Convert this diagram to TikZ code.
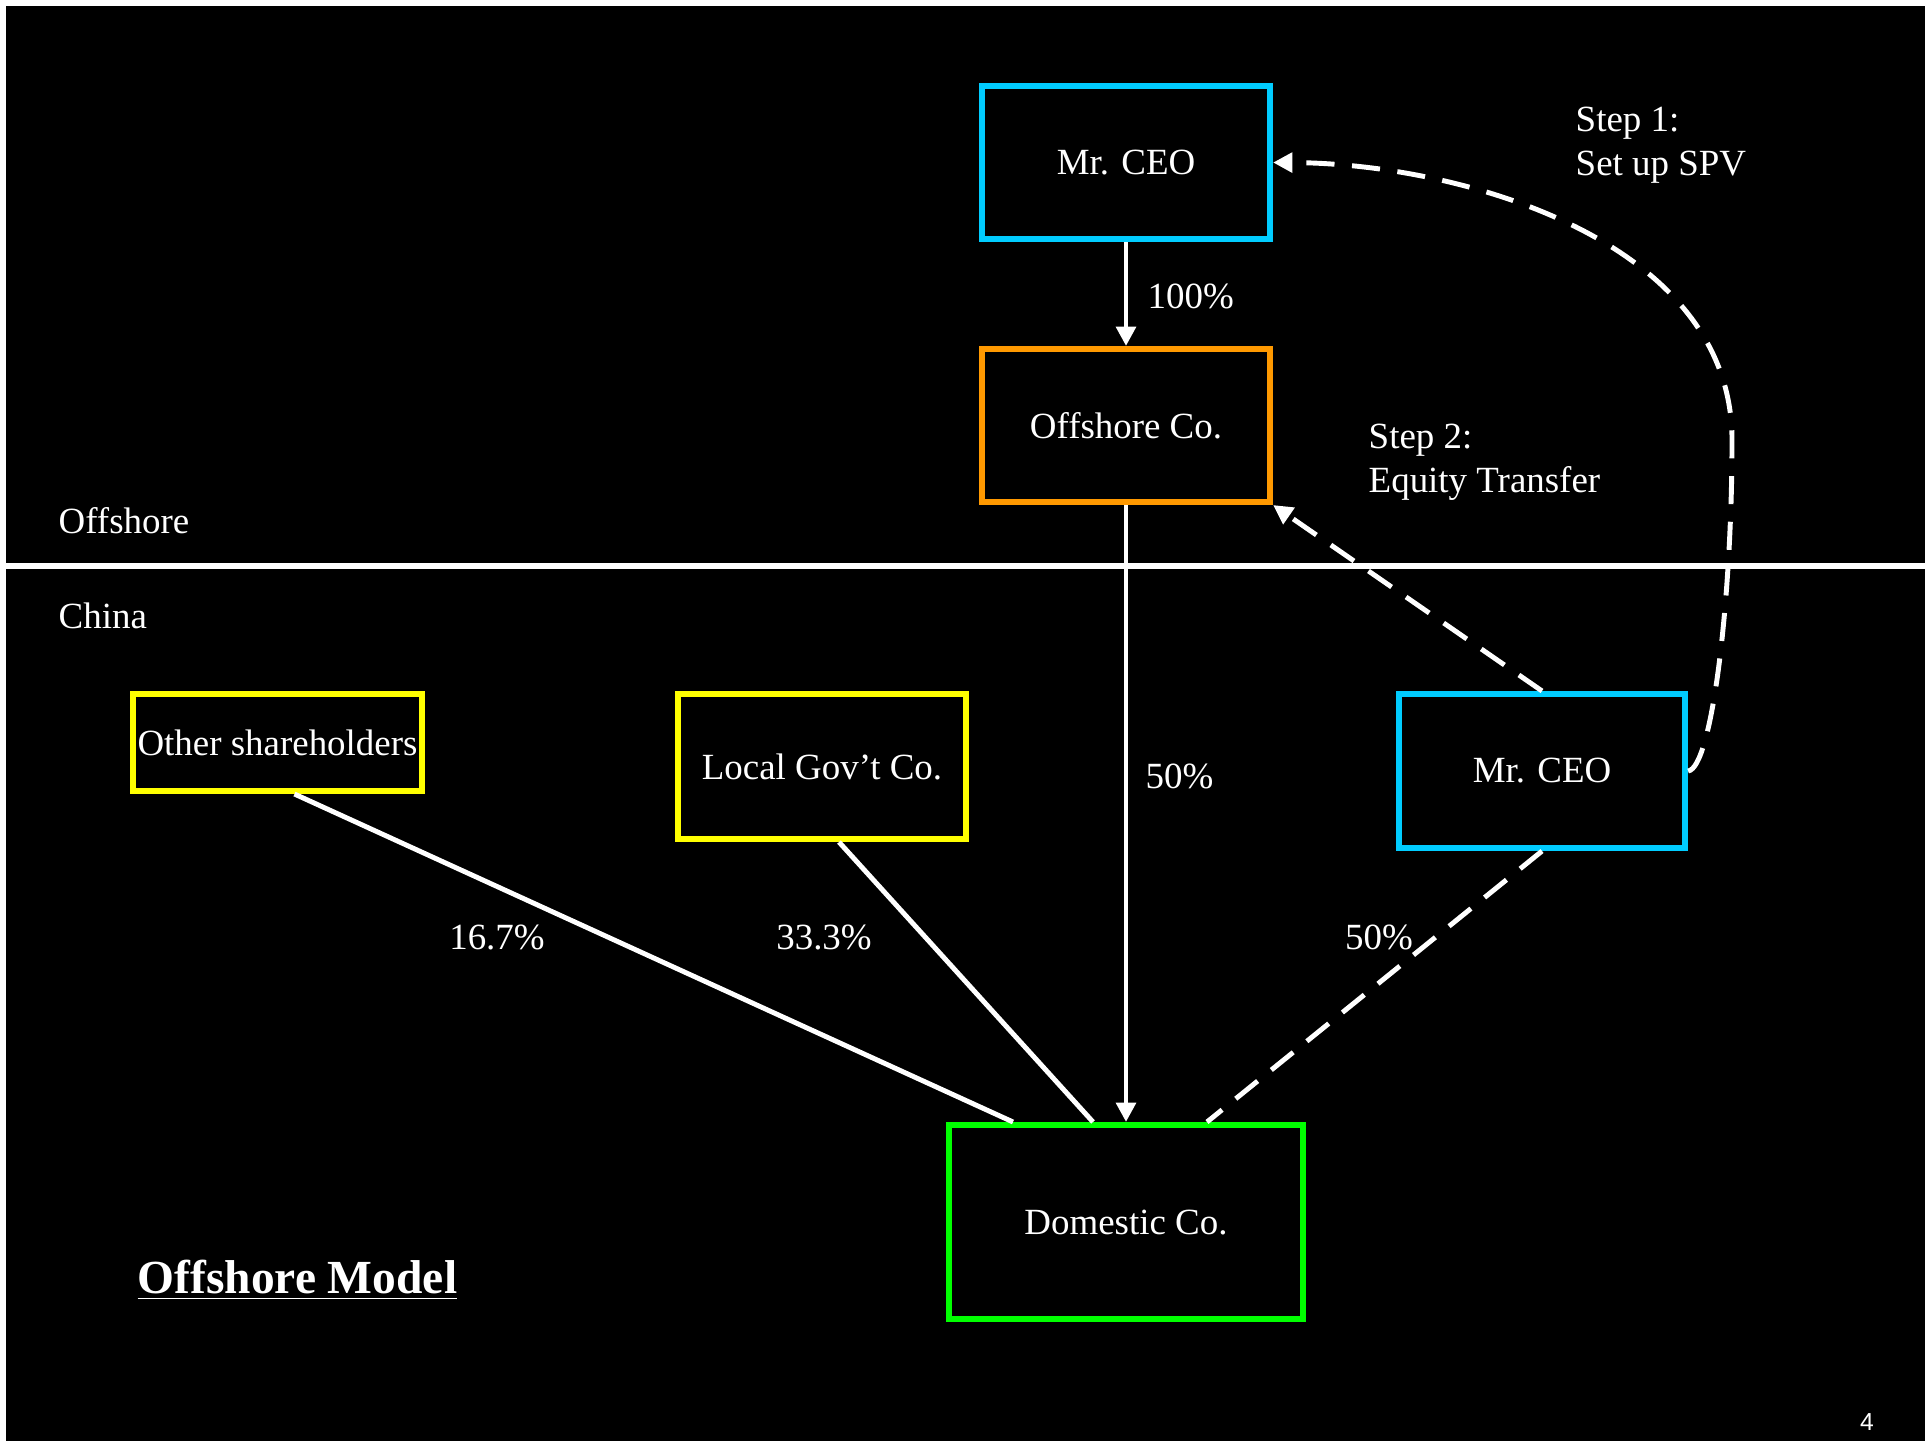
\documentclass[tikz,border=0pt]{standalone}
\usepackage{fontspec}
\setmainfont{Liberation Serif}
\newfontfamily\pagefont{Liberation Sans}
\usepackage{tikz}
\usetikzlibrary{arrows.meta,calc,positioning}

\definecolor{ceoblue}{RGB}{0,204,255}
\definecolor{offorange}{RGB}{255,153,0}
\definecolor{govyellow}{RGB}{255,255,0}
\definecolor{domgreen}{RGB}{0,255,0}

\tikzset{
  box/.style={draw=#1, line width=1.7pt, inner sep=0pt, text=white,
    font=\fontsize{10.5}{12.5}\selectfont},
  conn/.style={white, line width=1.4pt},
  dashconn/.style={conn, dash pattern=on 8pt off 5pt},
  tip/.style={-{Triangle[length=5.5pt,width=5.5pt]}},
  lbl/.style={text=white, inner sep=0pt, font=\fontsize{10.5}{12.5}\selectfont}
}

\begin{document}
\begin{tikzpicture}[x=0.01cm, y=-0.01cm]
            \useasboundingbox (0,0) rectangle (1925,1441);
            \fill[white] (0,0) rectangle (1925,1441);
            \fill[black] (6,6) rectangle (1925,1441);

            % offshore / china divide
            \draw[white, line width=1.5pt] (6,566) -- (1925,566);
            \node[lbl, anchor=west] (offlbl) at (58,521) {Offshore};
            \node[lbl, anchor=west] (cnlbl) at (58,616) {China};

            \node[box=ceoblue, minimum width=2.88cm, minimum height=1.53cm] (ceo1) at (1126,162.5) {Mr. CEO};
            \node[box=offorange, minimum width=2.88cm, minimum height=1.53cm] (offco) at (1126,425.5) {Offshore Co.};
            \node[box=domgreen, minimum width=3.54cm, minimum height=1.94cm] (domco) at (1126,1222) {Domestic Co.};
            \node[box=ceoblue, minimum width=2.86cm, minimum height=1.54cm] (ceo2) at (1542,771) {Mr. CEO};
            \node[box=govyellow, minimum width=2.88cm, minimum height=1.45cm] (gov) at (822,766.5) {Local Gov't Co.};
            \node[box=govyellow, minimum width=2.89cm, minimum height=0.97cm] (other) at (277.5,742.5) {Other shareholders};

            \draw[conn, tip] (ceo1) -- (offco);
            \draw[conn, tip] (offco) -- (domco);
            \draw[conn] ($(other.south)+(17,0)$) -- ($(domco.north)+(-113,0)$);
            \draw[conn] ($(gov.south)+(17,0)$) -- ($(domco.north)+(-33,0)$);
            \draw[dashconn] (ceo2.south) -- ($(domco.north)+(81,0)$);
            \draw[dashconn, tip] (ceo2.north) -- (offco.south east);
            \draw[dashconn, tip] (ceo2.east) .. controls (1712,768) and (1732,600) .. (1732,440)
              .. controls (1732,240) and (1460,163) .. (ceo1.east);

            \node[lbl, anchor=west] (p100) at (1147,296) {100\%};
            \node[lbl, anchor=west] (p50a) at (1145,776) {50\%};
            \node[lbl] (p167) at (497,937) {16.7\%};
            \node[lbl] (p333) at (824,937) {33.3\%};
            \node[lbl] (p50b) at (1379,937) {50\%};

            \node[lbl, anchor=west, align=left] (step1) at (1575,145) {Step 1:\\Set up SPV};
            \node[lbl, anchor=west, align=left] (step2) at (1368,462.5) {Step 2:\\Equity Transfer};

            \node[lbl, anchor=west, font=\fontsize{13.5}{15}\selectfont\bfseries] (title) at (137,1280) {\underline{Offshore Model}};
            \node[lbl, font=\fontsize{7}{8}\pagefont] (pgno) at (1867,1422) {4};
\end{tikzpicture}
\end{document}
